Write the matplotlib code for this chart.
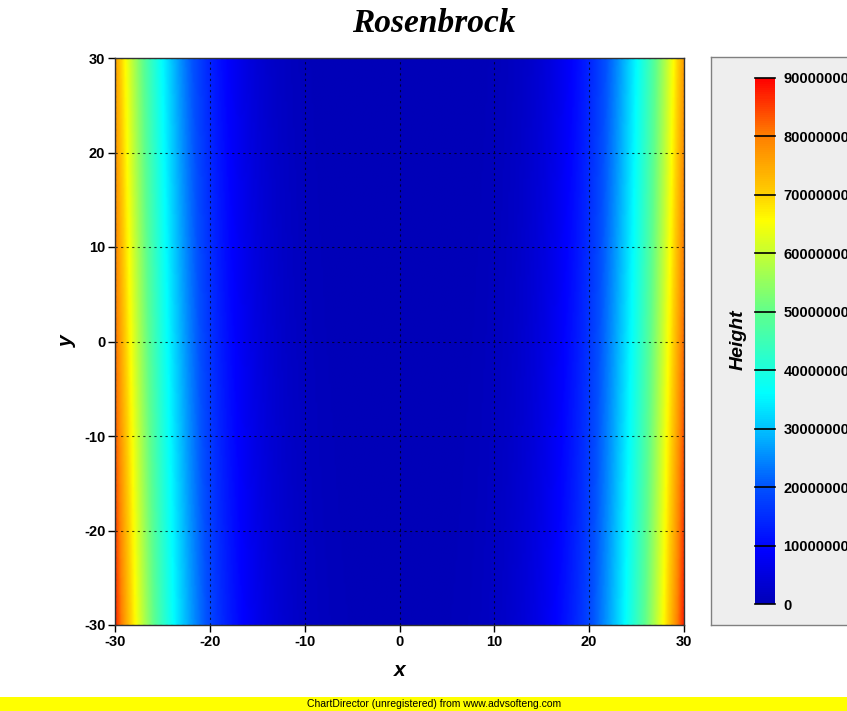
import numpy as np
import matplotlib
matplotlib.use('Agg')
import matplotlib.pyplot as plt
from matplotlib.colors import LinearSegmentedColormap
from matplotlib.patches import Rectangle

# Grid for the Rosenbrock surface z = (1 - x)^2 + 100 (y - x^2)^2
x_values = np.linspace(-30, 30, 301)
y_values = np.linspace(-30, 30, 301)
X, Y = np.meshgrid(x_values, y_values)
Z = (1 - X) ** 2 + 100 * (Y - X ** 2) ** 2

axis_ticks = [-30, -20, -10, 0, 10, 20, 30]
bar_ticks = [0, 10000000, 20000000, 30000000, 40000000,
             50000000, 60000000, 70000000, 80000000, 90000000]

# Colour scale running dark blue -> blue -> cyan -> green -> yellow -> orange -> red
cmap = LinearSegmentedColormap.from_list('height', [
    (0.00, '#0000b8'),
    (0.10, '#0000ff'),
    (0.22, '#0050ff'),
    (0.33, '#00c0ff'),
    (0.40, '#00ffff'),
    (0.55, '#5cff90'),
    (0.67, '#c8ff30'),
    (0.73, '#ffff00'),
    (0.78, '#ffd000'),
    (0.89, '#ff8000'),
    (1.00, '#ff0000'),
])

plt.rcParams['font.family'] = ['Liberation Sans', 'DejaVu Sans']
plt.rcParams['axes.unicode_minus'] = False

W, H = 847, 711
fig = plt.figure(figsize=(W / 100, H / 100), dpi=100)

def fig_rect(x0, y0, x1, y1):
    return [x0 / W, 1 - y1 / H, (x1 - x0) / W, (y1 - y0) / H]

# Main plot area
ax = fig.add_axes(fig_rect(115, 58, 684, 625))
img = ax.imshow(Z, extent=(-30, 30, -30, 30), origin='lower', cmap=cmap,
                vmin=0, vmax=90000000, aspect='auto', interpolation='bilinear')
ax.set_xlim(-30, 30)
ax.set_ylim(-30, 30)
ax.set_xticks(axis_ticks)
ax.set_yticks(axis_ticks)
ax.tick_params(direction='out', length=5, width=1, labelsize=10.5, pad=2)
for lab in ax.get_xticklabels() + ax.get_yticklabels():
    lab.set_fontweight('bold')
ax.grid(True, color='black', linestyle=(0, (2, 3)), linewidth=0.8, alpha=0.7)
for sp in ax.spines.values():
    sp.set_linewidth(1)
    sp.set_color('#333333')
ax.set_xlabel('x', fontsize=15, fontweight='bold', style='italic', labelpad=9)
ax.set_ylabel('y', fontsize=15, fontweight='bold', style='italic', labelpad=5)

fig.text(434 / W, 1 - 24 / H, 'Rosenbrock', ha='center', va='center',
         fontsize=24, fontweight='bold', style='italic', family='Liberation Serif')

# Legend box holding the colour bar
box = fig.add_axes(fig_rect(711, 57, W + 5, 625), zorder=0)
box.set_facecolor('#eeeeee')
box.set_xticks([])
box.set_yticks([])
for sp in box.spines.values():
    sp.set_color('#808080')
    sp.set_linewidth(1)

cax = fig.add_axes(fig_rect(755, 78, 775, 604), zorder=2)
cb = fig.colorbar(img, cax=cax, ticks=bar_ticks)
cb.outline.set_visible(False)
cax.tick_params(length=0, labelsize=10.5, pad=6)
for t in bar_ticks:
    cax.axhline(t, color='black', linewidth=1.2, clip_on=False)
cax.set_yticklabels([str(t) for t in bar_ticks])
for lab in cax.get_yticklabels():
    lab.set_fontweight('bold')
fig.text(738 / W, 1 - 340 / H, 'Height', rotation=90, ha='center', va='center',
         fontsize=14, fontweight='bold', style='italic', zorder=3)

# Footer strip
fig.patches.append(Rectangle((0, 0), 1, 14 / H, transform=fig.transFigure,
                             facecolor='#ffff00', edgecolor='none'))
fig.text(434 / W, 7 / H, 'ChartDirector (unregistered) from www.advsofteng.com',
         ha='center', va='center', fontsize=7.5)

fig.savefig('out.png', dpi=100)
